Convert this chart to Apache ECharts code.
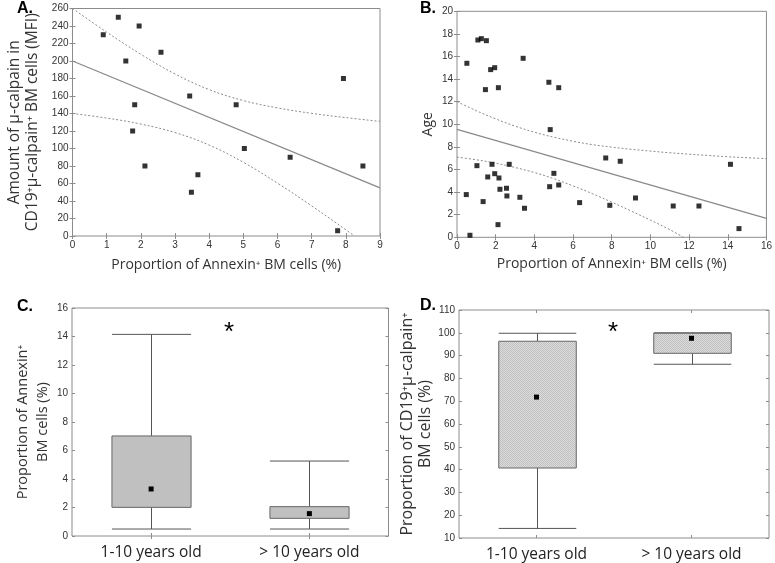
<!DOCTYPE html>
<html>
<head>
<meta charset="utf-8">
<script src="https://cdn.jsdelivr.net/npm/echarts@6/dist/echarts.min.js"></script>
<style>
html,body{margin:0;padding:0;background:#fff;}
#chart{width:775px;height:563px;}
</style>
</head>
<body>
<div id="chart"></div>
<script>
// ---- Panel A: Annexin+ (%) vs amount of µ-calpain (MFI)
const aX = [0.90, 1.34, 1.95, 1.56, 2.59, 1.82, 1.76, 2.12, 3.43, 3.48, 3.67, 4.79, 5.03, 6.37, 7.93, 8.50, 7.76];
const aY = [230, 250, 240, 200, 210, 150, 120, 80, 160, 50, 70, 150, 100, 90, 180, 80, 6];
const aFitX = [0, 9];
const aFitY = [200, 55];
const aUpperX = [0, 1, 2, 3, 4, 5, 6, 7, 8, 9];
const aUpperY = [260, 233, 207.7, 185.2, 167.3, 154.8, 146.4, 140.2, 135.3, 131];
const aLowerX = [0, 1, 2, 3, 4, 5, 6, 7, 8, 8.25];
const aLowerY = [140, 134.8, 127.9, 118.2, 103.9, 84.2, 60.4, 34.4, 7.1, 0];

// ---- Panel B: Annexin+ (%) vs Age
const bX = [0.51, 1.08, 1.26, 1.52, 1.47, 1.74, 1.95, 2.14, 3.42, 4.75, 5.26, 4.82, 7.69, 8.44, 14.14,
            1.03, 1.81, 2.70, 1.95, 2.17, 1.59, 2.22, 2.56, 2.58, 0.48, 1.35, 3.25, 3.49, 2.12, 0.67,
            5.01, 4.79, 5.26, 6.34, 7.90, 9.23, 11.18, 12.51, 14.58];
const bY = [15.4, 17.46, 17.58, 17.4, 13.07, 14.84, 15.01, 13.24, 15.84, 13.72, 13.24, 9.53, 7.02, 6.73, 6.46,
            6.34, 6.46, 6.46, 5.63, 5.25, 5.34, 4.25, 4.34, 3.66, 3.78, 3.16, 3.54, 2.57, 1.12, 0.18,
            5.66, 4.48, 4.63, 3.07, 2.83, 3.48, 2.77, 2.77, 0.77];
const bFitX = [0, 16];
const bFitY = [9.55, 1.67];
const bUpperX = [0, 1, 2, 3, 4, 5, 6, 7, 8, 9, 10, 11, 12, 13, 14, 15, 16];
const bUpperY = [12.0, 11.2, 10.48, 9.84, 9.3, 8.86, 8.5, 8.2, 7.98, 7.79, 7.63, 7.48, 7.36, 7.24, 7.13, 7.04, 6.96];
const bLowerX = [0, 1, 2, 3, 4, 5, 6, 7, 8, 9, 10, 11, 11.7];
const bLowerY = [7.1, 6.86, 6.56, 6.18, 5.73, 5.19, 4.55, 3.86, 3.11, 2.33, 1.52, 0.68, 0];

// ---- Panels C and D: box plots  [min, Q1, mean, Q3, max]
const groups = ['1-10 years old', '> 10 years old'];
const cBoxes = [[0.49, 2.01, 3.30, 7.02, 14.15], [0.49, 1.24, 1.57, 2.06, 5.26]];
const dBoxes = [[14.2, 40.7, 71.8, 96.3, 99.8], [86.2, 91.0, 97.6, 99.8, 100.0]];

// ---- build
const zip = (xs, ys) => xs.map((x, i) => [x, ys[i]]);
const FRAME = '#8c8c8c';
const tickFont = { fontFamily: 'Liberation Sans, Arial', fontSize: 10, color: '#333' };
const titleFont = { fontFamily: 'Open Sans', fontSize: 14, color: '#333' };

function valAxis(grid, pos, min, max, interval, extra) {
  const shown = (pos === 'bottom' || pos === 'left');
  return Object.assign({
    type: 'value', gridIndex: grid, position: pos, min: min, max: max, interval: interval,
    axisLine: { show: false },
    axisTick: { show: true, inside: true, length: 3, lineStyle: { color: FRAME } },
    axisLabel: Object.assign({ show: shown, margin: 4 }, tickFont),
    splitLine: { show: false }
  }, extra || {});
}
function catAxis(grid, pos, extra) {
  const shown = pos === 'bottom';
  return Object.assign({
    type: 'category', gridIndex: grid, position: pos, data: groups, boundaryGap: true,
    axisLine: { show: false },
    axisTick: { show: true, inside: true, length: 3, alignWithLabel: true, lineStyle: { color: FRAME } },
    axisLabel: { show: shown, margin: 9, fontFamily: 'Open Sans', fontSize: 15.5, color: '#222' },
    splitLine: { show: false }
  }, extra || {});
}

// hatched fill for panel D
const pat = document.createElement('canvas');
pat.width = 2; pat.height = 2;
const pctx = pat.getContext('2d');
pctx.fillStyle = '#dcdcdc'; pctx.fillRect(0, 0, 2, 2);
pctx.fillStyle = '#c0c0c0'; pctx.fillRect(0, 0, 1, 1); pctx.fillRect(1, 1, 1, 1);

function boxRender(fill) {
  return function (params, api) {
    const c = api.value(0);
    const pMin = api.coord([c, api.value(1)]);
    const pQ1 = api.coord([c, api.value(2)]);
    const pMean = api.coord([c, api.value(3)]);
    const pQ3 = api.coord([c, api.value(4)]);
    const pMax = api.coord([c, api.value(5)]);
    const w = api.size([1, 0])[0] * 0.5;
    const x = Math.round(pMin[0]) + 0.5;
    const ls = { stroke: '#555', lineWidth: 1 };
    return {
      type: 'group', children: [
        { type: 'line', shape: { x1: x, y1: pMax[1], x2: x, y2: pQ3[1] }, style: ls },
        { type: 'line', shape: { x1: x, y1: pQ1[1], x2: x, y2: pMin[1] }, style: ls },
        { type: 'line', shape: { x1: x - w / 2, y1: pMax[1], x2: x + w / 2, y2: pMax[1] }, style: ls },
        { type: 'line', shape: { x1: x - w / 2, y1: pMin[1], x2: x + w / 2, y2: pMin[1] }, style: ls },
        { type: 'rect', shape: { x: x - w / 2, y: pQ3[1], width: w, height: pQ1[1] - pQ3[1] },
          style: { fill: fill, stroke: '#666', lineWidth: 1 } },
        { type: 'rect', shape: { x: pMean[0] - 2.5, y: pMean[1] - 2.5, width: 5, height: 5 }, style: { fill: '#000' } }
      ]
    };
  };
}

const dash = { color: '#8a8a8a', width: 1, type: [2, 2] };
const solid = { color: '#8a8a8a', width: 1.3 };
function lineSeries(xi, yi, data, style, smooth) {
  return { type: 'line', xAxisIndex: xi, yAxisIndex: yi, data: data, showSymbol: false, smooth: smooth ? 0.4 : false,
           lineStyle: style, silent: true, z: 1 };
}
function scatter(xi, yi, data) {
  return { type: 'scatter', xAxisIndex: xi, yAxisIndex: yi, data: data, symbol: 'rect', symbolSize: 5,
           itemStyle: { color: '#000' }, z: 3 };
}

const gridBase = { show: true, borderColor: FRAME, borderWidth: 1, backgroundColor: 'transparent' };
const option = {
  animation: false,
  grid: [
    Object.assign({ left: 72.5, top: 8.5, width: 307.5, height: 227.5 }, gridBase),
    Object.assign({ left: 457, top: 11.3, width: 312, height: 226 }, gridBase),
    Object.assign({ left: 72, top: 308, width: 316.5, height: 228 }, gridBase),
    Object.assign({ left: 459, top: 310, width: 310, height: 228 }, gridBase)
  ],
  xAxis: [
    valAxis(0, 'bottom', 0, 9, 1, { name: 'Proportion of Annexin⁺ BM cells (%)', nameLocation: 'middle', nameGap: 22, nameTextStyle: titleFont }),
    valAxis(0, 'top', 0, 9, 1),
    valAxis(1, 'bottom', 0, 16, 2, { name: 'Proportion of Annexin⁺ BM cells (%)', nameLocation: 'middle', nameGap: 20, nameTextStyle: titleFont }),
    valAxis(1, 'top', 0, 16, 2),
    catAxis(2, 'bottom'),
    catAxis(2, 'top'),
    catAxis(3, 'bottom'),
    catAxis(3, 'top')
  ],
  yAxis: [
    valAxis(0, 'left', 0, 260, 20, { name: 'Amount of µ-calpain in\nCD19⁺µ-calpain⁺ BM cells (MFI)', nameLocation: 'middle', nameGap: 31,
      nameTextStyle: { fontFamily: 'Open Sans', fontSize: 15.5, lineHeight: 18, color: '#333' } }),
    valAxis(0, 'right', 0, 260, 20),
    valAxis(1, 'left', 0, 20, 2, { name: 'Age', nameLocation: 'middle', nameGap: 22, nameTextStyle: titleFont }),
    valAxis(1, 'right', 0, 20, 2),
    valAxis(2, 'left', 0, 16, 2, { name: 'Proportion of Annexin⁺\nBM cells (%)', nameLocation: 'middle', nameGap: 19,
      nameTextStyle: { fontFamily: 'Open Sans', fontSize: 14.5, lineHeight: 20, color: '#333' } }),
    valAxis(2, 'right', 0, 16, 2),
    valAxis(3, 'left', 10, 110, 10, { name: 'Proportion of CD19⁺µ-calpain⁺\nBM cells (%)', nameLocation: 'middle', nameGap: 19,
      nameTextStyle: { fontFamily: 'Open Sans', fontSize: 16, lineHeight: 18, color: '#333' } }),
    valAxis(3, 'right', 10, 110, 10)
  ],
  series: [
    lineSeries(0, 0, zip(aUpperX, aUpperY), dash, true),
    lineSeries(0, 0, zip(aLowerX, aLowerY), dash, true),
    lineSeries(0, 0, zip(aFitX, aFitY), solid, false),
    scatter(0, 0, zip(aX, aY)),
    lineSeries(2, 2, zip(bUpperX, bUpperY), dash, true),
    lineSeries(2, 2, zip(bLowerX, bLowerY), dash, true),
    lineSeries(2, 2, zip(bFitX, bFitY), solid, false),
    scatter(2, 2, zip(bX, bY)),
    { type: 'custom', xAxisIndex: 4, yAxisIndex: 4, renderItem: boxRender('#c0c0c0'),
      encode: { x: 0, y: [1, 2, 3, 4, 5] }, data: cBoxes.map((b, i) => [i].concat(b)) },
    { type: 'custom', xAxisIndex: 6, yAxisIndex: 6, renderItem: boxRender({ image: pat, repeat: 'repeat' }),
      encode: { x: 0, y: [1, 2, 3, 4, 5] }, data: dBoxes.map((b, i) => [i].concat(b)) }
  ],
  graphic: [
    { type: 'text', left: 17, top: 1, style: { text: 'A.', font: 'bold 16px "Liberation Sans", Arial', fill: '#000' } },
    { type: 'text', left: 420, top: 1, style: { text: 'B.', font: 'bold 16px "Liberation Sans", Arial', fill: '#000' } },
    { type: 'text', left: 17, top: 299, style: { text: 'C.', font: 'bold 16px "Liberation Sans", Arial', fill: '#000' } },
    { type: 'text', left: 420, top: 298, style: { text: 'D.', font: 'bold 16px "Liberation Sans", Arial', fill: '#000' } },
    { type: 'text', left: 224, top: 320, style: { text: '*', font: '26px "Liberation Sans", Arial', fill: '#000' } },
    { type: 'text', left: 608, top: 320, style: { text: '*', font: '26px "Liberation Sans", Arial', fill: '#000' } }
  ]
};
const chart = echarts.init(document.getElementById('chart'), null, { renderer: 'canvas' });
chart.setOption(option);
</script>
</body>
</html>
